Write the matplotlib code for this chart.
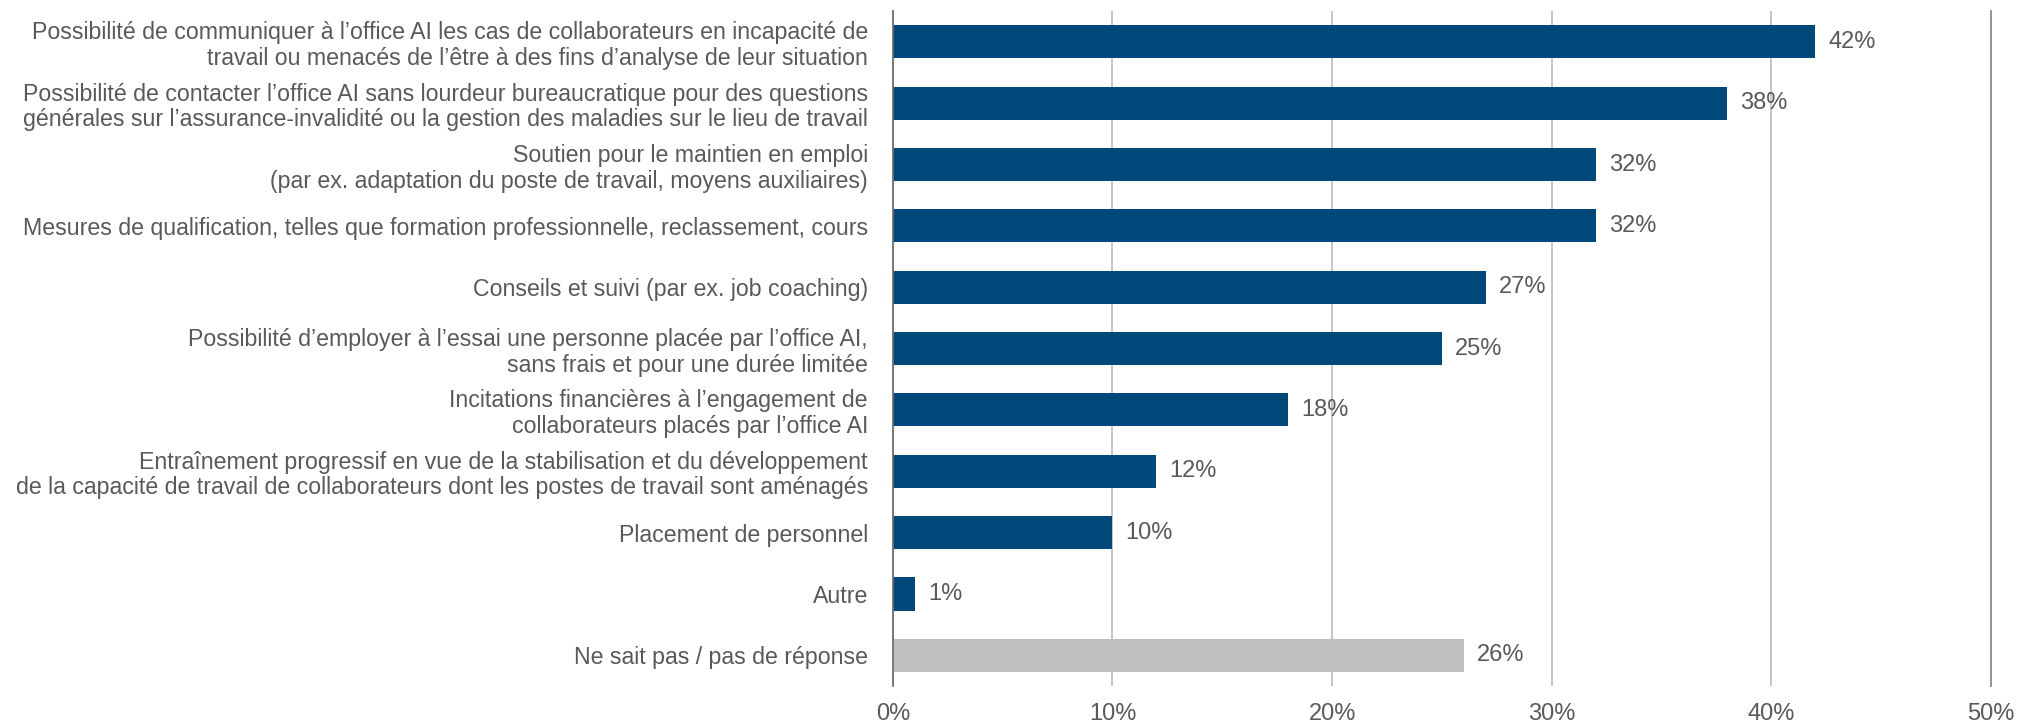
import matplotlib
matplotlib.use("Agg")
import matplotlib.pyplot as plt
from matplotlib.ticker import FuncFormatter

# categories, top to bottom
labels = [
    "Possibilité de communiquer à l’office AI les cas de collaborateurs en incapacité de\ntravail ou menacés de l’être à des fins d’analyse de leur situation",
    "Possibilité de contacter l’office AI sans lourdeur bureaucratique pour des questions\ngénérales sur l’assurance-invalidité ou la gestion des maladies sur le lieu de travail",
    "Soutien pour le maintien en emploi\n(par ex. adaptation du poste de travail, moyens auxiliaires)",
    "Mesures de qualification, telles que formation professionnelle, reclassement, cours",
    "Conseils et suivi (par ex. job coaching)",
    "Possibilité d’employer à l’essai une personne placée par l’office AI,\nsans frais et pour une durée limitée",
    "Incitations financières à l’engagement de\ncollaborateurs placés par l’office AI",
    "Entraînement progressif en vue de la stabilisation et du développement\nde la capacité de travail de collaborateurs dont les postes de travail sont aménagés",
    "Placement de personnel",
    "Autre",
    "Ne sait pas / pas de réponse",
]
values = [42, 38, 32, 32, 27, 25, 18, 12, 10, 1, 26]
x_ticks = [0, 10, 20, 30, 40, 50]

BLUE = "#00477A"
GREY = "#BFBFBF"
TEXT = "#595959"

plt.rcParams["font.family"] = ["Liberation Sans", "DejaVu Sans"]

fig = plt.figure(figsize=(20.17, 7.28), dpi=100)
ax = fig.add_axes([0.4427, 0.0577, 0.5443, 0.927])

colors = [BLUE] * (len(values) - 1) + [GREY]
ypos = list(range(len(values)))
ax.barh(ypos, values, height=0.54, color=colors, zorder=3)

for y, v in zip(ypos, values):
    ax.text(v + 0.6, y, f"{v}%", va="center", ha="left", fontsize=17, color=TEXT)

ax.set_xlim(0, 50)
ax.set_ylim(10.5, -0.5)
ax.set_xticks(x_ticks)
ax.xaxis.set_major_formatter(FuncFormatter(lambda v, p: f"{int(v)}%"))
ax.set_yticks(ypos)
ax.set_yticklabels(labels, fontsize=16.7, color=TEXT, linespacing=1.15)

ax.tick_params(axis="y", length=0, pad=18)
ax.tick_params(axis="x", length=0, pad=12, labelsize=17, labelcolor=TEXT)
ax.grid(axis="x", color="#C0C0C0", linewidth=1.3, zorder=0)

for s in ["top", "bottom"]:
    ax.spines[s].set_visible(False)
for s in ["left", "right"]:
    ax.spines[s].set_linewidth(1.3)
    ax.spines[s].set_zorder(4)
ax.spines["left"].set_color("#6F6F6F")
ax.spines["right"].set_color("#8C8C8C")

fig.savefig("out.png", dpi=100)
